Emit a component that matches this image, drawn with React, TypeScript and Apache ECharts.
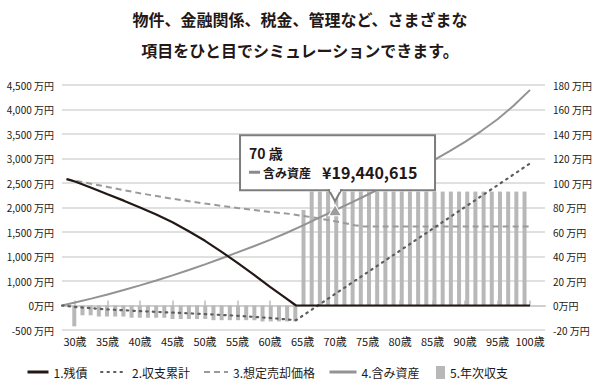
import React, { useEffect, useRef } from 'react';
import * as echarts from 'echarts';

const titleLines = ['物件、金融関係、税金、管理など、さまざまな', '項目をひと目でシミュレーションできます。'];
const seriesNames = ['1.残債', '2.収支累計', '3.想定売却価格', '4.含み資産', '5.年次収支'];
const ageTicks = [30, 35, 40, 45, 50, 55, 60, 65, 70, 75, 80, 85, 90, 95, 100];
const leftTickValues = [-500, 0, 500, 1000, 1500, 2000, 2500, 3000, 3500, 4000, 4500];
const leftTickLabels = ['-500 万円', '0万円', '1,000 万円', '1,000 万円', '1,500 万円', '2,000 万円', '2,500 万円', '3,000 万円', '3,500 万円', '4,000 万円', '4,500 万円'];
const rightTickValues = [-20, 0, 20, 40, 60, 80, 100, 120, 140, 160, 180];
const rightTickLabels = ['-20 万円', '0万円', '20 万円', '40 万円', '60 万円', '80 万円', '100 万円', '120 万円', '140 万円', '160 万円', '180 万円'];

// [age, 万円]
const loanBalance: [number, number][] = [
  [28.7, 2580], [30, 2530], [32.5, 2405], [35, 2270], [37.5, 2140], [40, 2000], [42.5, 1855], [45, 1700],
  [47.5, 1515], [50, 1320], [52.5, 1100], [55, 870], [57.5, 630], [60, 380], [62, 190], [64, 0],
  [70, 0], [80, 0], [90, 0], [100, 0],
];
const cumulativeBalance: [number, number][] = [
  [28, 0], [30, -30], [35, -80], [40, -115], [45, -145], [50, -175], [55, -210], [60, -255], [64, -300],
  [70, 235], [80, 1120], [90, 2010], [100, 2900],
];
const salePrice: [number, number][] = [
  [28.7, 2580], [35, 2420], [40, 2290], [45, 2180], [50, 2080], [55, 1990], [60, 1910], [63, 1870],
  [67, 1790], [70, 1720], [73, 1640], [74.5, 1610], [80, 1610], [90, 1610], [100, 1610],
];
const unrealizedGain: [number, number][] = [
  [28, 0], [30, 60], [32.5, 140], [35, 225], [37.5, 315], [40, 410], [42.5, 510], [45, 615], [47.5, 725],
  [50, 840], [52.5, 960], [55, 1085], [57.5, 1210], [60, 1340], [62.5, 1480], [65, 1630], [67.5, 1790],
  [70, 1944], [72.5, 2100], [75, 2260], [77.5, 2425], [80, 2595], [82.5, 2770], [85, 2950], [87.5, 3140],
  [90, 3340], [92.5, 3560], [95, 3800], [97.5, 4080], [100, 4400],
];
// annual balance bars (万円), one per slot across the plot
const annualBalance: (number | string)[] = [
  '-', -17,
  -8, -8, -9, -9, -9, -9, -10, -10, -10, -10, -10, -11, -11, -11, -11, -11, -12, -12, -12, -12, -12, -12, -13, -13, -13, -13, -13,
  78,
  93, 93, 93, 93, 93, 93, 93, 93, 93, 93, 93, 93, 93, 93, 93, 93, 93, 93, 93, 93, 93, 93, 93, 93, 93, 93, 93,
  '-', '-',
];
const highlightAge = 70;
const highlightValue = 1944;
const highlightLabelAge = '70 歳';
const highlightLabelName = '含み資産';
const highlightLabelValue = '¥19,440,615';

const FONT = '"Noto Sans CJK JP", "Noto Sans", sans-serif';
const INK = '#231815';

export default function App() {
  const ref = useRef<HTMLDivElement>(null);
  useEffect(() => {
    if (!ref.current) return;
    const chart = echarts.init(ref.current, undefined, { renderer: 'svg' });
    const slots = annualBalance.map((_, i) => String(i));
    const legendBase = {
      top: 361,
      itemHeight: 12,
      textStyle: { fontSize: 12, color: INK, fontFamily: FONT },
      selectedMode: false,
      itemStyle: { opacity: 0 },
    };
    chart.setOption({
      animation: false,
      textStyle: { fontFamily: FONT },
      grid: { left: 62, right: 55, top: 85, bottom: 56 },
      legend: [
        { ...legendBase, data: [seriesNames[0]], left: 21, itemWidth: 21, lineStyle: { width: 3 } },
        { ...legendBase, data: [seriesNames[1]], left: 95, itemWidth: 26 },
        { ...legendBase, data: [seriesNames[2]], left: 198, itemWidth: 24 },
        { ...legendBase, data: [seriesNames[3]], left: 323, itemWidth: 27, lineStyle: { width: 3 } },
        { ...legendBase, itemStyle: {}, data: [{ name: seriesNames[4], icon: 'rect' }], left: 431, itemWidth: 9, itemHeight: 13 },
      ],
      xAxis: [
        {
          type: 'value',
          min: 28,
          max: 102.3,
          position: 'bottom',
          axisLine: { show: true, lineStyle: { color: '#cfcfcf', width: 2 } },
          axisTick: { show: true, inside: true, length: 5, customValues: ageTicks, lineStyle: { color: '#bdbdbd', width: 1.5 } },
          axisLabel: {
            customValues: ageTicks,
            formatter: (v: number) => `${v}歳`,
            fontSize: 11,
            color: INK,
            margin: 5,
          },
          splitLine: { show: false },
        },
        {
          type: 'category',
          data: slots,
          show: false,
          boundaryGap: true,
          position: 'top',
        },
      ],
      yAxis: [
        {
          type: 'value',
          min: -500,
          max: 4500,
          interval: 500,
          axisLine: { show: false },
          axisTick: { show: false },
          axisLabel: {
            fontSize: 10,
            color: INK,
            margin: 8,
            formatter: (v: number) => leftTickLabels[leftTickValues.indexOf(v)] ?? '',
          },
          splitLine: { show: true, lineStyle: { color: '#d6d6d6', width: 1.5 } },
        },
        {
          type: 'value',
          min: -20,
          max: 180,
          interval: 20,
          position: 'right',
          axisLine: { show: false },
          axisTick: { show: false },
          axisLabel: {
            fontSize: 10,
            color: INK,
            margin: 8,
            formatter: (v: number) => rightTickLabels[rightTickValues.indexOf(v)] ?? '',
          },
          splitLine: { show: false },
        },
      ],
      series: [
        {
          name: seriesNames[4],
          type: 'bar',
          xAxisIndex: 1,
          yAxisIndex: 1,
          data: annualBalance,
          barWidth: 4,
          itemStyle: { color: '#b8b8b8' },
          z: 1,
        },
        {
          name: seriesNames[2],
          type: 'line',
          data: salePrice,
          symbol: 'none',
          lineStyle: { color: '#9a9a9a', width: 2, type: [6, 4] },
          itemStyle: { color: '#9a9a9a' },
          z: 3,
        },
        {
          name: seriesNames[3],
          type: 'line',
          data: unrealizedGain,
          symbol: 'none',
          lineStyle: { color: '#939393', width: 2 },
          itemStyle: { color: '#939393' },
          z: 4,
          markPoint: {
            symbol: 'triangle',
            symbolSize: [13, 11],
            label: { show: false },
            itemStyle: { color: '#9d9d9d', borderColor: '#ffffff', borderWidth: 1, opacity: 1 },
            data: [{ coord: [highlightAge, highlightValue] }],
          },
        },
        {
          name: seriesNames[1],
          type: 'line',
          data: cumulativeBalance,
          symbol: 'none',
          lineStyle: { color: '#5e5e5e', width: 2.2, type: [1.5, 5], cap: 'round' },
          itemStyle: { color: '#5e5e5e' },
          z: 5,
        },
        {
          name: seriesNames[0],
          type: 'line',
          data: loanBalance,
          symbol: 'none',
          lineStyle: { color: INK, width: 2.2 },
          itemStyle: { color: INK },
          z: 6,
        },
      ],
    });

    const p = chart.convertToPixel({ xAxisIndex: 0, yAxisIndex: 0 }, [highlightAge, highlightValue]) as number[];
    const px = p[0];
    const py = p[1];
    chart.setOption({
      graphic: [
        {
          type: 'text',
          x: 300,
          y: 19,
          style: { text: titleLines[0], fontSize: 16, fontWeight: 'bold', fill: INK, fontFamily: FONT, align: 'center', verticalAlign: 'middle' },
        },
        {
          type: 'text',
          x: 300,
          y: 50,
          style: { text: titleLines[1], fontSize: 16, fontWeight: 'bold', fill: INK, fontFamily: FONT, align: 'center', verticalAlign: 'middle' },
        },
        {
          type: 'group',
          x: px,
          y: py,
          z: 100,
          children: [
            { type: 'rect', shape: { x: -95, y: -75, width: 195, height: 55 }, style: { fill: '#ffffff', stroke: '#7d7d7d', lineWidth: 2 }, z: 100 },
            { type: 'polygon', shape: { points: [[-6, -20], [0, -9], [6, -20]] }, style: { fill: '#ffffff', stroke: '#7d7d7d', lineWidth: 2 }, z: 101 },
            { type: 'line', shape: { x1: -5, y1: -20, x2: 5, y2: -20 }, style: { stroke: '#ffffff', lineWidth: 3 }, z: 102 },
            { type: 'text', x: -86, y: -57, style: { text: highlightLabelAge, fontSize: 14, fontWeight: 'bold', fill: INK, fontFamily: FONT, verticalAlign: 'middle' }, z: 103 },
            { type: 'line', shape: { x1: -86, y1: -38, x2: -75, y2: -38 }, style: { stroke: '#8a8a8a', lineWidth: 3 }, z: 103 },
            { type: 'text', x: -72, y: -38, style: { text: highlightLabelName, fontSize: 12, fontWeight: 'bold', fill: INK, fontFamily: FONT, verticalAlign: 'middle' }, z: 103 },
            { type: 'text', x: -13, y: -38, style: { text: highlightLabelValue, fontSize: 16, fontWeight: 'bold', fill: INK, fontFamily: FONT, verticalAlign: 'middle' }, z: 103 },
          ],
        },
      ],
    });
    return () => chart.dispose();
  }, []);
  return <div ref={ref} style={{ position: 'absolute', left: 0, top: 0, width: 600, height: 386 }} />;
}
